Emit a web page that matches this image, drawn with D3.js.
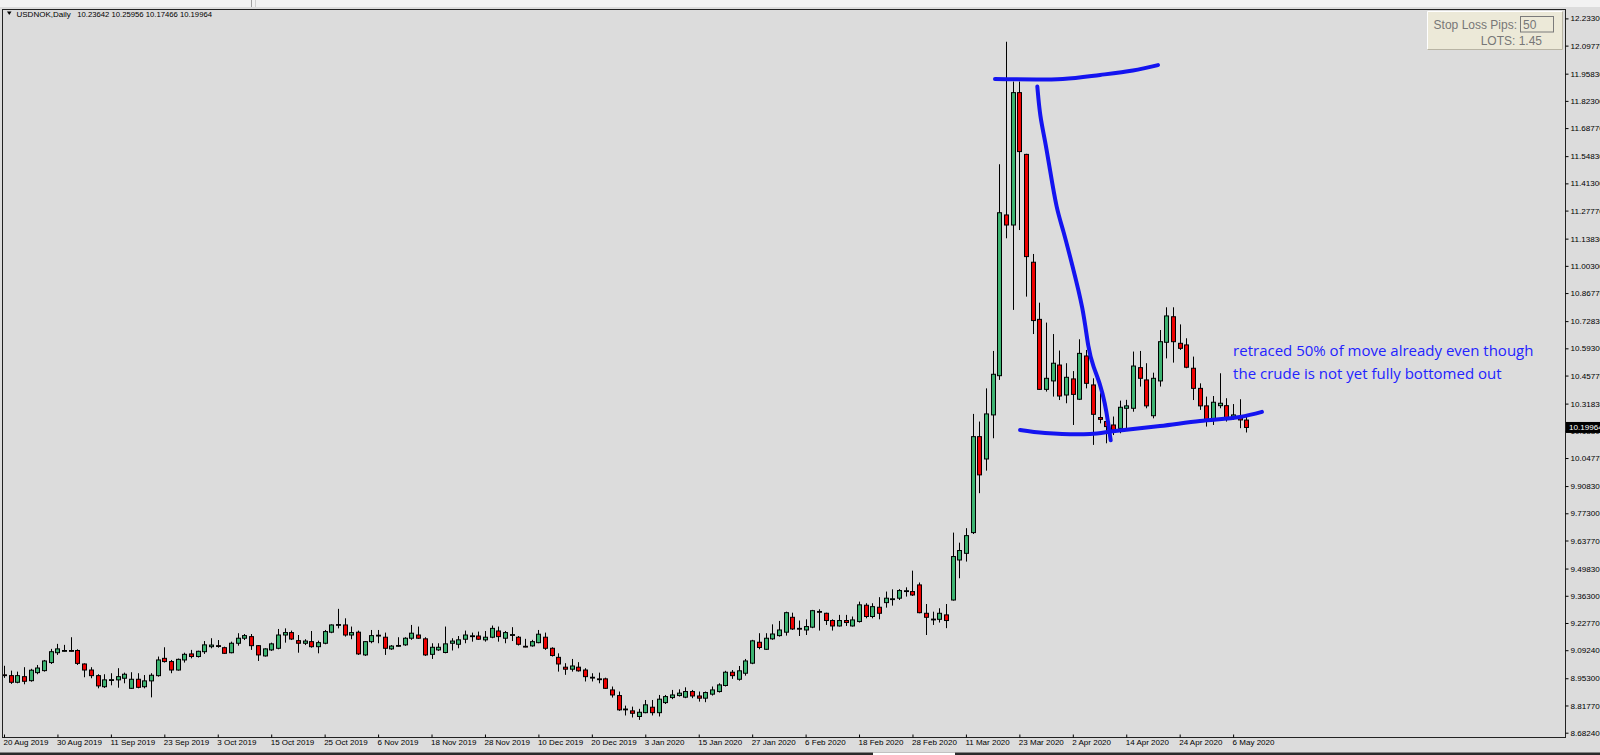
<!DOCTYPE html>
<html><head><meta charset="utf-8">
<script src="https://cdn.jsdelivr.net/npm/d3@7"></script>
<style>
html,body{margin:0;padding:0;background:#dcdcdc;overflow:hidden}
svg{display:block}
</style></head><body>
<svg id="c" width="1600" height="755"></svg>
<script>
// ---- DATA (USDNOK daily, 20 Aug 2019 .. 8 May 2020) ----
const symbolName = "USDNOK,Daily";
const lastBar = [10.23642, 10.25956, 10.17466, 10.19964];
const openP = [8.970,8.966,8.933,8.961,8.941,8.981,8.991,9.031,9.080,9.089,9.091,9.091,9.024,8.994,8.966,8.911,8.945,8.945,8.953,8.903,
8.948,8.911,8.940,8.966,9.052,9.036,8.994,9.044,9.074,9.061,9.085,9.110,9.115,9.105,9.080,9.127,9.152,9.160,9.115,9.064,
9.094,9.102,9.168,9.180,9.140,9.127,9.135,9.110,9.127,9.182,9.218,9.218,9.168,9.182,9.069,9.135,9.163,9.157,9.099,9.115,
9.119,9.152,9.168,9.149,9.072,9.094,9.081,9.127,9.122,9.147,9.163,9.163,9.144,9.157,9.188,9.152,9.168,9.157,9.112,9.114,
9.130,9.157,9.102,9.057,9.008,8.998,9.008,8.994,8.958,8.950,8.950,8.895,8.867,8.800,8.791,8.763,8.782,8.809,8.782,8.832,
8.857,8.867,8.859,8.887,8.865,8.854,8.874,8.887,8.917,8.983,8.948,8.978,9.028,9.132,9.097,9.149,9.165,9.182,9.256,9.201,
9.193,9.207,9.285,9.276,9.240,9.213,9.240,9.213,9.235,9.316,9.260,9.306,9.329,9.347,9.351,9.387,9.384,9.417,9.276,9.247,
9.246,9.268,9.342,9.541,9.574,9.677,10.154,10.043,10.262,10.457,11.256,11.206,11.864,11.557,11.021,10.737,10.389,10.431,10.510,10.361,
10.441,10.340,10.555,10.411,10.249,10.229,10.212,10.195,10.295,10.295,10.497,10.436,10.258,10.431,10.623,10.750,10.618,10.610,10.494,10.394,
10.307,10.237,10.308,10.308,10.250,10.254,10.23642];
const highP = [9.015,8.991,8.986,9.008,9.000,9.019,9.044,9.099,9.124,9.119,9.157,9.097,9.027,9.008,8.973,8.973,8.978,9.003,8.981,8.983,
8.978,8.969,8.978,9.061,9.107,9.044,9.051,9.080,9.094,9.090,9.138,9.152,9.143,9.110,9.135,9.177,9.173,9.173,9.118,9.102,
9.130,9.198,9.201,9.190,9.168,9.147,9.188,9.140,9.193,9.221,9.298,9.251,9.210,9.190,9.138,9.193,9.193,9.180,9.118,9.157,
9.157,9.218,9.210,9.157,9.127,9.127,9.210,9.152,9.163,9.190,9.180,9.185,9.188,9.215,9.210,9.188,9.207,9.163,9.149,9.144,
9.193,9.180,9.107,9.077,9.028,9.049,9.033,9.003,8.978,8.981,8.956,8.912,8.887,8.817,8.812,8.801,8.845,8.845,8.870,8.870,
8.895,8.898,8.908,8.895,8.887,8.887,8.912,8.928,8.990,8.994,9.014,9.049,9.144,9.177,9.177,9.221,9.238,9.284,9.279,9.240,
9.246,9.293,9.296,9.279,9.246,9.268,9.268,9.260,9.334,9.326,9.326,9.356,9.384,9.395,9.396,9.405,9.488,9.429,9.322,9.284,
9.301,9.322,9.677,9.627,9.699,10.267,10.229,10.394,10.580,11.508,12.117,11.919,11.919,11.560,11.062,10.820,10.721,10.664,10.582,10.519,
10.480,10.638,10.585,10.444,10.370,10.254,10.254,10.333,10.337,10.577,10.580,10.519,10.472,10.684,10.797,10.797,10.712,10.643,10.552,10.419,
10.353,10.356,10.469,10.345,10.316,10.340,10.25956];
const lowP = [8.955,8.925,8.928,8.923,8.936,8.973,8.986,9.024,9.069,9.086,9.086,9.019,8.958,8.953,8.903,8.905,8.918,8.906,8.928,8.900,
8.903,8.903,8.858,8.961,9.031,8.978,8.991,9.031,9.052,9.056,9.074,9.102,9.105,9.074,9.077,9.115,9.143,9.094,9.039,9.061,
9.089,9.097,9.130,9.143,9.080,9.118,9.105,9.077,9.122,9.177,9.201,9.160,9.147,9.069,9.064,9.127,9.127,9.069,9.094,9.110,
9.114,9.144,9.149,9.064,9.049,9.089,9.077,9.091,9.102,9.127,9.135,9.144,9.135,9.152,9.135,9.127,9.138,9.116,9.107,9.110,
9.127,9.094,9.061,8.986,8.970,8.986,8.986,8.937,8.937,8.928,8.900,8.857,8.791,8.768,8.758,8.746,8.779,8.768,8.763,8.825,
8.849,8.862,8.854,8.854,8.837,8.834,8.867,8.882,8.912,8.950,8.941,8.966,9.023,9.097,9.094,9.144,9.160,9.165,9.193,9.163,
9.168,9.202,9.190,9.218,9.190,9.210,9.213,9.210,9.230,9.251,9.251,9.246,9.304,9.314,9.342,9.359,9.362,9.276,9.168,9.218,
9.230,9.202,9.339,9.450,9.533,9.670,9.873,9.985,10.146,10.436,11.140,10.784,11.181,10.850,10.664,10.386,10.378,10.353,10.336,10.320,
10.212,10.336,10.394,10.113,10.220,10.121,10.162,10.171,10.187,10.278,10.403,10.295,10.245,10.403,10.543,10.522,10.585,10.494,10.336,10.287,
10.204,10.212,10.295,10.229,10.237,10.196,10.17466];
const closeP = [8.968,8.933,8.966,8.938,8.993,9.004,9.039,9.085,9.099,9.091,9.089,9.027,8.994,8.966,8.915,8.945,8.946,8.961,8.973,8.948,
8.908,8.940,8.968,9.044,9.036,8.994,9.047,9.072,9.061,9.087,9.119,9.118,9.114,9.077,9.127,9.152,9.165,9.115,9.069,9.099,
9.124,9.168,9.180,9.148,9.127,9.138,9.110,9.130,9.185,9.218,9.220,9.168,9.180,9.074,9.135,9.165,9.167,9.102,9.113,9.116,
9.152,9.177,9.152,9.069,9.107,9.107,9.124,9.138,9.144,9.168,9.164,9.147,9.157,9.201,9.160,9.180,9.170,9.122,9.110,9.135,
9.172,9.102,9.066,9.024,8.998,9.014,8.990,8.961,8.957,8.949,8.903,8.870,8.796,8.800,8.779,8.784,8.821,8.782,8.849,8.862,
8.870,8.879,8.887,8.865,8.854,8.882,8.895,8.920,8.983,8.966,8.990,9.039,9.139,9.106,9.152,9.173,9.193,9.279,9.198,9.200,
9.210,9.289,9.284,9.240,9.213,9.240,9.230,9.243,9.318,9.260,9.309,9.276,9.351,9.348,9.389,9.388,9.367,9.279,9.256,9.246,
9.276,9.240,9.558,9.588,9.662,10.154,9.964,10.267,10.464,11.267,11.206,11.864,11.571,11.049,10.731,10.389,10.444,10.519,10.356,10.449,
10.364,10.568,10.419,10.265,10.240,10.204,10.187,10.300,10.307,10.505,10.444,10.307,10.444,10.626,10.754,10.626,10.593,10.499,10.394,10.307,
10.237,10.325,10.320,10.245,10.262,10.237,10.19964];

const timeTickBars = [0,8,16,24,32,40,48,56,64,72,80,88,96,104,112,120,128,136,144,152,160,168,176,184];
const timeTickLabels = ["20 Aug 2019","30 Aug 2019","11 Sep 2019","23 Sep 2019","3 Oct 2019","15 Oct 2019","25 Oct 2019",
"6 Nov 2019","18 Nov 2019","28 Nov 2019","10 Dec 2019","20 Dec 2019","3 Jan 2020","15 Jan 2020","27 Jan 2020","6 Feb 2020",
"18 Feb 2020","28 Feb 2020","11 Mar 2020","23 Mar 2020","2 Apr 2020","14 Apr 2020","24 Apr 2020","6 May 2020"];
const priceTicks = [12.233,12.0977,11.9583,11.823,11.6877,11.5483,11.413,11.2777,11.1383,11.003,10.8677,10.7283,10.593,
10.4577,10.3183,10.183,10.0477,9.9083,9.773,9.6377,9.4983,9.363,9.2277,9.0924,8.953,8.8177,8.6824];

// hand drawn annotations as [bar index, price]
const topLine = [[148.35,11.932],[158.5,11.932],[164.1,11.952],[169.0,11.974],[172.75,12.001]];
const dropLine = [[154.69,11.894],[155.09,11.744],[155.84,11.629],[156.59,11.479],[157.59,11.281],[158.58,11.181],
[159.84,11.016],[161.57,10.792],[162.32,10.586],[163.07,10.502],[164.07,10.419],[164.82,10.320],[165.31,10.221],[165.67,10.136]];
const supportLine = [[152.1,10.187],[155.84,10.172],[162.57,10.167],[166.32,10.182],[173.05,10.207],[179.04,10.232],[185.03,10.252],[188.32,10.277]];
const noteLines = ["retraced 50% of move already even though","the crude is not yet fully bottomed out"];
const noteAnchor = [184.0, 10.555];

const stopLossPips = "50";
const lots = "1.45";

// ---- DRAW ----
const svg = d3.select("#c");
const W = 1600, H = 755;
const frame = {l:2, t:9, r:1565, b:737};
const x = d3.scaleLinear().domain([0, 186]).range([4, 4 + 6.68*186]);
const y = d3.scaleLinear().domain([8.6824, 12.2330]).range([732.7, 18.4]);
const FONT = "'Liberation Sans', Arial, sans-serif";

svg.append("rect").attr("width",W).attr("height",H).attr("fill","#dcdcdc");
// top strip
svg.append("rect").attr("x",0).attr("y",0).attr("width",W).attr("height",7).attr("fill","#f2f2f2");
svg.append("line").attr("x1",251.5).attr("x2",251.5).attr("y1",0).attr("y2",7).attr("stroke","#a0a0a0");
svg.append("line").attr("x1",255.5).attr("x2",255.5).attr("y1",0).attr("y2",7).attr("stroke","#d0d0d0");

const data = openP.map((o,i)=>({i, o, h:highP[i], l:lowP[i], c:closeP[i]}));

const plot = svg.append("g");
plot.append("clipPath").attr("id","clip").append("rect")
  .attr("x",frame.l+1).attr("y",frame.t+1).attr("width",frame.r-frame.l-1).attr("height",frame.b-frame.t-1);
const chart = plot.append("g").attr("clip-path","url(#clip)");

const candles = chart.append("g").selectAll("g").data(data).join("g");
candles.append("line")
  .attr("x1",d=>Math.round(x(d.i))+0.5).attr("x2",d=>Math.round(x(d.i))+0.5)
  .attr("y1",d=>y(d.h)).attr("y2",d=>y(d.l))
  .attr("stroke","#000").attr("stroke-width",1);
candles.append("rect")
  .attr("x",d=>Math.round(x(d.i))-1.5).attr("width",4)
  .attr("y",d=>y(Math.max(d.o,d.c)))
  .attr("height",d=>Math.max(0.8, Math.abs(y(d.o)-y(d.c))))
  .attr("fill",d=>d.c>=d.o ? "#3cb371" : "#ee0000")
  .attr("stroke","#000").attr("stroke-width",1);

// annotations
const lineGen = d3.line().x(d=>x(d[0])).y(d=>y(d[1])).curve(d3.curveCatmullRom.alpha(0.5));
const smoothGen = d3.line().x(d=>x(d[0])).y(d=>y(d[1])).curve(d3.curveBasis);
[[topLine,lineGen],[dropLine,smoothGen],[supportLine,lineGen]].forEach(([pts,gen])=>{
  chart.append("path").attr("d",gen(pts)).attr("fill","none")
    .attr("stroke","#1414f0").attr("stroke-width",4).attr("stroke-linecap","round").attr("stroke-linejoin","round");
});
const note = chart.append("text").attr("font-family","'Open Sans', sans-serif").attr("font-size",15)
  .attr("fill","#2323ff");
noteLines.forEach((t,k)=>{
  note.append("tspan").attr("x",x(noteAnchor[0])).attr("y",y(noteAnchor[1]) + k*23).text(t);
});

// frame
svg.append("rect").attr("x",frame.l+0.5).attr("y",frame.t+0.5)
  .attr("width",frame.r-frame.l).attr("height",frame.b-frame.t)
  .attr("fill","none").attr("stroke","#222").attr("stroke-width",1);

// price axis
const yAxis = d3.axisRight(y).tickValues(priceTicks).tickFormat(d=>d.toFixed(5)).tickSize(3).tickPadding(2);
const yg = svg.append("g").attr("transform",`translate(${frame.r+0.5},0)`).call(yAxis);
yg.select(".domain").remove();
yg.selectAll("text").attr("font-family",FONT).attr("font-size",8.1).attr("fill","#000");
yg.selectAll("line").attr("stroke","#000");

// last price label
const lp = svg.append("g");
lp.append("rect").attr("x",frame.r+1).attr("y",y(lastBar[3])-5.5).attr("width",40).attr("height",11).attr("fill","#000");
lp.append("text").attr("x",frame.r+4).attr("y",y(lastBar[3])).attr("dy","0.35em")
  .attr("font-family",FONT).attr("font-size",8.1).attr("fill","#fff").text(lastBar[3].toFixed(5));

// time axis
const xAxis = d3.axisBottom(x).tickValues(timeTickBars).tickFormat((d,i)=>timeTickLabels[i]).tickSize(-3).tickPadding(2);
const xg = svg.append("g").attr("transform",`translate(0,${frame.b+0.5})`).call(xAxis);
xg.select(".domain").remove();
xg.selectAll("text").attr("font-family",FONT).attr("font-size",8).attr("fill","#000")
  .attr("text-anchor","start").attr("dx",-1);
xg.selectAll("line").attr("stroke","#000");

// bottom tab bar
svg.append("rect").attr("x",0).attr("y",752.5).attr("width",W).attr("height",2.5).attr("fill","#2a2a2a");
svg.append("rect").attr("x",873).attr("y",752.5).attr("width",82).attr("height",2.5).attr("fill","#ffffff");

// header
svg.append("path").attr("d","M7,11.5 L11.5,11.5 L9.25,15 Z").attr("fill","#000");
svg.append("text").attr("x",16.5).attr("y",17.3).attr("font-family",FONT).attr("font-size",8).attr("fill","#000")
  .text(symbolName);
svg.append("text").attr("x",77.3).attr("y",17.3).attr("font-family",FONT).attr("font-size",7.7).attr("fill","#000")
  .text(lastBar.map(v=>v.toFixed(5)).join(" "));

// stop loss panel
const sp = svg.append("g");
sp.append("rect").attr("x",1427).attr("y",11).attr("width",136).attr("height",39).attr("fill","#ece9d8");
sp.append("path").attr("d","M1427.5,49.5 L1427.5,11.5 L1562.5,11.5").attr("fill","none").attr("stroke","#ffffff");
sp.append("path").attr("d","M1562.5,11.5 L1562.5,49.5 L1427.5,49.5").attr("fill","none").attr("stroke","#b8b4a4");
sp.append("rect").attr("x",1520.5).attr("y",16.5).attr("width",33).attr("height",15.5).attr("fill","#ece9d8").attr("stroke","#7b7b7b");
sp.append("text").attr("x",1517).attr("y",29).attr("text-anchor","end").attr("font-family",FONT).attr("font-size",12).attr("fill","#777").text("Stop Loss Pips:");
sp.append("text").attr("x",1523).attr("y",29).attr("font-family",FONT).attr("font-size",12).attr("fill","#777").text(stopLossPips);
sp.append("text").attr("x",1542).attr("y",45).attr("text-anchor","end").attr("font-family",FONT).attr("font-size",12).attr("fill","#777").text("LOTS: " + lots);
</script>
</body></html>
